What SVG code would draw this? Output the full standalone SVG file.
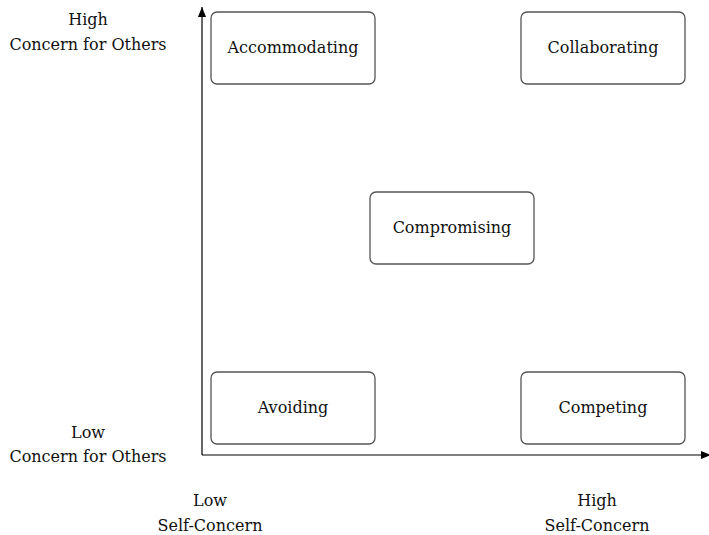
<svg xmlns="http://www.w3.org/2000/svg" width="709" height="535" viewBox="0 0 709 535">
  <defs>
    <marker id="arrow" viewBox="0 0 10 8" refX="10" refY="4" markerWidth="10" markerHeight="8" markerUnits="userSpaceOnUse" orient="auto">
      <path d="M0,0 L10,4 L0,8 Z" fill="#000"/>
    </marker>
    <style>
      .box { fill: #fff; stroke: #555; stroke-width: 1.3; }
      .lbl { font-family: "DejaVu Serif", "Liberation Serif", serif; font-size: 16px; fill: #111; text-anchor: middle; }
      .axis { stroke: #000; stroke-width: 1.2; fill: none; }
    </style>
  </defs>
  <rect width="709" height="535" fill="#fff"/>

  <!-- axes: concern for others (vertical), self-concern (horizontal) -->
  <g id="connectors">
    <line class="axis" x1="202" y1="455" x2="202" y2="7" marker-end="url(#arrow)"/>
    <line class="axis" x1="202" y1="455" x2="711" y2="455" marker-end="url(#arrow)"/>
  </g>

  <g id="accommodating">
    <rect class="box" x="211" y="12" width="164" height="72" rx="6"/>
    <text class="lbl" x="293" y="53">Accommodating</text>
  </g>
  <g id="collaborating">
    <rect class="box" x="521" y="12" width="164" height="72" rx="6"/>
    <text class="lbl" x="603" y="53">Collaborating</text>
  </g>
  <g id="compromising">
    <rect class="box" x="370" y="192" width="164" height="72" rx="6"/>
    <text class="lbl" x="452" y="233">Compromising</text>
  </g>
  <g id="avoiding">
    <rect class="box" x="211" y="372" width="164" height="72" rx="6"/>
    <text class="lbl" x="293" y="413">Avoiding</text>
  </g>
  <g id="competing">
    <rect class="box" x="521" y="372" width="164" height="72" rx="6"/>
    <text class="lbl" x="603" y="413">Competing</text>
  </g>

  <g id="axis-labels">
    <text class="lbl" x="88" y="25">High</text>
    <text class="lbl" x="88" y="50">Concern for Others</text>
    <text class="lbl" x="88" y="438">Low</text>
    <text class="lbl" x="88" y="462">Concern for Others</text>
    <text class="lbl" x="210" y="506">Low</text>
    <text class="lbl" x="210" y="531">Self-Concern</text>
    <text class="lbl" x="597" y="506">High</text>
    <text class="lbl" x="597" y="531">Self-Concern</text>
  </g>
</svg>
